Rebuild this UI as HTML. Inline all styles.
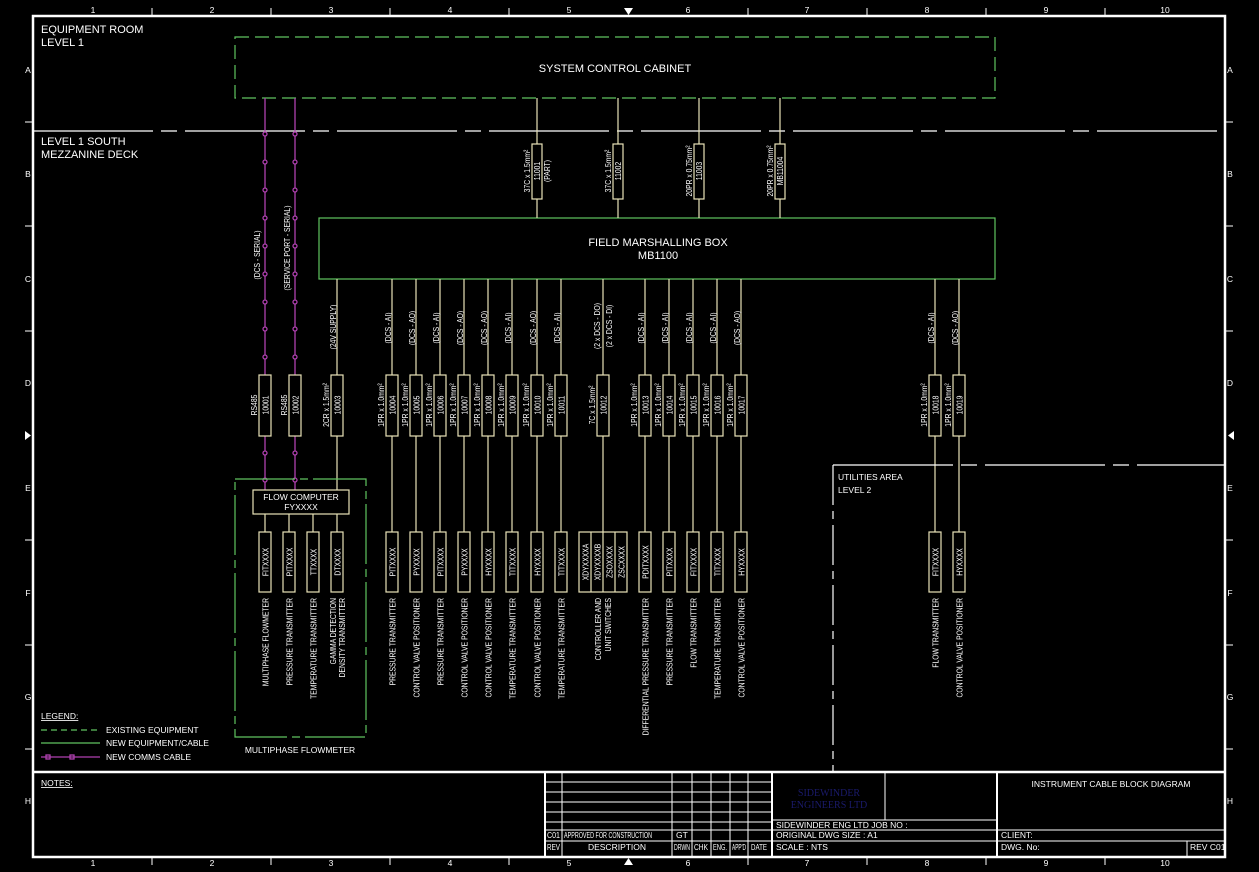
<!DOCTYPE html>
<html><head><meta charset="utf-8"><style>
html,body{margin:0;padding:0;background:#000;}
svg{display:block;}
text{font-family:"Liberation Sans Narrow","Liberation Sans",sans-serif;fill:#fff;font-size:8.5px;}
.m{text-anchor:middle;}
.e{text-anchor:end;}
.L{font-size:11px;}
.ln{stroke:#e8e2b8;stroke-width:1.2;fill:none;}
.bx{stroke:#e8e2b8;stroke-width:1.2;fill:#000;}
.g{stroke:#5fc45f;stroke-width:1.2;fill:none;}
.mg{stroke:#b040b0;stroke-width:1.3;fill:none;}
.w{stroke:#fff;fill:none;}
.s{font-size:6px;}
</style></head><body>
<svg width="1259" height="872" viewBox="0 0 1259 872" xmlns="http://www.w3.org/2000/svg">
<rect width="1259" height="872" fill="#000"/>
<!-- frame -->
<rect x="33" y="16" width="1192" height="841" class="w" stroke-width="2.5"/>
<g class="w" stroke-width="1">
<line x1="152" y1="8" x2="152" y2="16"/><line x1="271" y1="8" x2="271" y2="16"/><line x1="390" y1="8" x2="390" y2="16"/><line x1="509" y1="8" x2="509" y2="16"/><line x1="748" y1="8" x2="748" y2="16"/><line x1="867" y1="8" x2="867" y2="16"/><line x1="986" y1="8" x2="986" y2="16"/><line x1="1105" y1="8" x2="1105" y2="16"/>
<line x1="152" y1="857" x2="152" y2="865"/><line x1="271" y1="857" x2="271" y2="865"/><line x1="390" y1="857" x2="390" y2="865"/><line x1="509" y1="857" x2="509" y2="865"/><line x1="748" y1="857" x2="748" y2="865"/><line x1="867" y1="857" x2="867" y2="865"/><line x1="986" y1="857" x2="986" y2="865"/><line x1="1105" y1="857" x2="1105" y2="865"/>
<line x1="25" y1="122" x2="33" y2="122"/><line x1="25" y1="226" x2="33" y2="226"/><line x1="25" y1="331" x2="33" y2="331"/><line x1="25" y1="540" x2="33" y2="540"/><line x1="25" y1="645" x2="33" y2="645"/><line x1="25" y1="749" x2="33" y2="749"/>
<line x1="1225" y1="122" x2="1233" y2="122"/><line x1="1225" y1="226" x2="1233" y2="226"/><line x1="1225" y1="331" x2="1233" y2="331"/><line x1="1225" y1="540" x2="1233" y2="540"/><line x1="1225" y1="645" x2="1233" y2="645"/><line x1="1225" y1="749" x2="1233" y2="749"/>
</g>
<polygon points="624,8 633,8 628.5,15" fill="#fff"/><polygon points="624,865 633,865 628.5,858" fill="#fff"/>
<polygon points="25,431 25,440 31,435.5" fill="#fff"/><polygon points="1234,431 1234,440 1228,435.5" fill="#fff"/>
<g class="m" font-size="7">
<text x="93" y="13">1</text><text x="212" y="13">2</text><text x="331" y="13">3</text><text x="450" y="13">4</text><text x="569" y="13">5</text><text x="688" y="13">6</text><text x="807" y="13">7</text><text x="927" y="13">8</text><text x="1046" y="13">9</text><text x="1165" y="13">10</text>
<text x="93" y="866">1</text><text x="212" y="866">2</text><text x="331" y="866">3</text><text x="450" y="866">4</text><text x="569" y="866">5</text><text x="688" y="866">6</text><text x="807" y="866">7</text><text x="927" y="866">8</text><text x="1046" y="866">9</text><text x="1165" y="866">10</text>
<text x="28" y="73">A</text><text x="28" y="177">B</text><text x="28" y="282">C</text><text x="28" y="386">D</text><text x="28" y="491">E</text><text x="28" y="596">F</text><text x="28" y="700">G</text><text x="28" y="804">H</text>
<text x="1230" y="73">A</text><text x="1230" y="177">B</text><text x="1230" y="282">C</text><text x="1230" y="386">D</text><text x="1230" y="491">E</text><text x="1230" y="596">F</text><text x="1230" y="700">G</text><text x="1230" y="804">H</text>
</g>
<!-- area labels -->
<text x="41" y="33" class="L">EQUIPMENT ROOM</text><text x="41" y="46" class="L">LEVEL 1</text>
<text x="41" y="145" class="L">LEVEL 1 SOUTH</text><text x="41" y="158" class="L">MEZZANINE DECK</text>
<line x1="33" y1="131" x2="1225" y2="131" class="w" stroke-dasharray="120 8 16 8" stroke-width="1.3"/>
<!-- cabinet -->
<rect x="235" y="37" width="760" height="61" class="g" stroke-dasharray="14 6"/>
<text x="615" y="72" class="m L">SYSTEM CONTROL CABINET</text>
<!-- FMB -->
<rect x="319" y="218" width="676" height="61" class="g"/>
<text x="658" y="246" class="m L">FIELD MARSHALLING BOX</text>
<text x="658" y="259" class="m L">MB1100</text>
<!-- top cables -->
<g transform="translate(537,0)"><line x1="0" y1="98" x2="0" y2="218" class="ln"/><rect x="-5" y="144" width="10" height="55" class="bx"/>
<text transform="translate(3,171) rotate(-90) scale(.8,1)" class="m">11001</text><text transform="translate(-7,171) rotate(-90) scale(.8,1)" class="m">37C x 1.5mm²</text><text transform="translate(13,171) rotate(-90) scale(.8,1)" class="m">(PART)</text></g>
<g transform="translate(618,0)"><line x1="0" y1="98" x2="0" y2="218" class="ln"/><rect x="-5" y="144" width="10" height="55" class="bx"/>
<text transform="translate(3,171) rotate(-90) scale(.8,1)" class="m">11002</text><text transform="translate(-7,171) rotate(-90) scale(.8,1)" class="m">37C x 1.5mm²</text></g>
<g transform="translate(699,0)"><line x1="0" y1="98" x2="0" y2="218" class="ln"/><rect x="-5" y="144" width="10" height="55" class="bx"/>
<text transform="translate(3,171) rotate(-90) scale(.8,1)" class="m">11003</text><text transform="translate(-7,171) rotate(-90) scale(.8,1)" class="m">20PR x 0.75mm²</text></g>
<g transform="translate(780,0)"><line x1="0" y1="98" x2="0" y2="218" class="ln"/><rect x="-5" y="144" width="10" height="55" class="bx"/>
<text transform="translate(3,171) rotate(-90) scale(.8,1)" class="m">MB11004</text><text transform="translate(-7,171) rotate(-90) scale(.8,1)" class="m">20PR x 0.75mm²</text></g>
<!-- magenta comms -->
<g class="mg">
<line x1="265" y1="98" x2="265" y2="490"/><line x1="295" y1="98" x2="295" y2="490"/>
<g fill="#000">
<circle cx="265" cy="134" r="2"/><circle cx="265" cy="162" r="2"/><circle cx="265" cy="190" r="2"/><circle cx="265" cy="218" r="2"/><circle cx="265" cy="246" r="2"/><circle cx="265" cy="274" r="2"/><circle cx="265" cy="302" r="2"/><circle cx="265" cy="329" r="2"/><circle cx="265" cy="357" r="2"/><circle cx="265" cy="453" r="2"/><circle cx="265" cy="480" r="2"/>
<circle cx="295" cy="134" r="2"/><circle cx="295" cy="162" r="2"/><circle cx="295" cy="190" r="2"/><circle cx="295" cy="218" r="2"/><circle cx="295" cy="246" r="2"/><circle cx="295" cy="274" r="2"/><circle cx="295" cy="302" r="2"/><circle cx="295" cy="329" r="2"/><circle cx="295" cy="357" r="2"/><circle cx="295" cy="453" r="2"/><circle cx="295" cy="480" r="2"/>
</g></g>
<g transform="translate(265,0)"><rect x="-6" y="375" width="12" height="61" class="bx"/>
<text transform="translate(3.5,405) rotate(-90) scale(.8,1)" class="m">10001</text><text transform="translate(-8,405) rotate(-90) scale(.8,1)" class="m">RS485</text><text transform="translate(-5,255) rotate(-90) scale(.8,1)" class="m">(DCS - SERIAL)</text></g>
<g transform="translate(295,0)"><rect x="-6" y="375" width="12" height="61" class="bx"/>
<text transform="translate(3.5,405) rotate(-90) scale(.8,1)" class="m">10002</text><text transform="translate(-8,405) rotate(-90) scale(.8,1)" class="m">RS485</text><text transform="translate(-5,248) rotate(-90) scale(.8,1)" class="m">(SERVICE PORT - SERIAL)</text></g>
<g transform="translate(337,0)"><line x1="0" y1="279" x2="0" y2="490" class="ln"/><rect x="-6" y="375" width="12" height="61" class="bx"/>
<text transform="translate(3.5,405) rotate(-90) scale(.8,1)" class="m">10003</text><text transform="translate(-8,405) rotate(-90) scale(.8,1)" class="m">2CR x 1.5mm²</text><text transform="translate(-1,327) rotate(-90) scale(.8,1)" class="m">(24V SUPPLY)</text></g>
<!-- multiphase flowmeter -->
<rect x="235" y="479" width="131" height="258" class="g" stroke-dasharray="60 5 8 5"/>
<text x="300" y="753" class="m">MULTIPHASE FLOWMETER</text>
<rect x="253" y="490" width="96" height="24" class="bx"/>
<text x="301" y="500" class="m" font-size="8">FLOW COMPUTER</text><text x="301" y="510" class="m" font-size="8">FYXXXX</text>
<g class="ln"><line x1="265" y1="514" x2="265" y2="532"/><line x1="289" y1="514" x2="289" y2="532"/><line x1="313" y1="514" x2="313" y2="532"/><line x1="337" y1="514" x2="337" y2="532"/></g>
<g transform="translate(265,0)"><rect x="-6" y="532" width="12" height="60" class="bx"/><text transform="translate(3.5,562) rotate(-90) scale(.8,1)" class="m">FITXXXX</text><text transform="translate(3.5,598) rotate(-90) scale(.8,1)" class="e">MULTIPHASE FLOWMETER</text></g>
<g transform="translate(289,0)"><rect x="-6" y="532" width="12" height="60" class="bx"/><text transform="translate(3.5,562) rotate(-90) scale(.8,1)" class="m">PITXXXX</text><text transform="translate(3.5,598) rotate(-90) scale(.8,1)" class="e">PRESSURE TRANSMITTER</text></g>
<g transform="translate(313,0)"><rect x="-6" y="532" width="12" height="60" class="bx"/><text transform="translate(3.5,562) rotate(-90) scale(.8,1)" class="m">TTXXXX</text><text transform="translate(3.5,598) rotate(-90) scale(.8,1)" class="e">TEMPERATURE TRANSMITTER</text></g>
<g transform="translate(337,0)"><rect x="-6" y="532" width="12" height="60" class="bx"/><text transform="translate(3.5,562) rotate(-90) scale(.8,1)" class="m">DTXXXX</text><text transform="translate(-1,598) rotate(-90) scale(.8,1)" class="e">GAMMA DETECTION</text><text transform="translate(8,598) rotate(-90) scale(.8,1)" class="e">DENSITY TRANSMITTER</text></g>

<!-- field columns -->
<g transform="translate(392,0)"><line x1="0" y1="279" x2="0" y2="532" class="ln"/><rect x="-6" y="375" width="12" height="61" class="bx"/><text transform="translate(3.5,405) rotate(-90) scale(.8,1)" class="m">10004</text><text transform="translate(-8,405) rotate(-90) scale(.8,1)" class="m">1PR x 1.0mm²</text><text transform="translate(-1,328) rotate(-90) scale(.8,1)" class="m">(DCS - AI)</text><rect x="-6" y="532" width="12" height="60" class="bx"/><text transform="translate(3.5,562) rotate(-90) scale(.8,1)" class="m">PITXXXX</text><text transform="translate(3.5,598) rotate(-90) scale(.8,1)" class="e">PRESSURE TRANSMITTER</text></g>
<g transform="translate(416,0)"><line x1="0" y1="279" x2="0" y2="532" class="ln"/><rect x="-6" y="375" width="12" height="61" class="bx"/><text transform="translate(3.5,405) rotate(-90) scale(.8,1)" class="m">10005</text><text transform="translate(-8,405) rotate(-90) scale(.8,1)" class="m">1PR x 1.0mm²</text><text transform="translate(-1,328) rotate(-90) scale(.8,1)" class="m">(DCS - AO)</text><rect x="-6" y="532" width="12" height="60" class="bx"/><text transform="translate(3.5,562) rotate(-90) scale(.8,1)" class="m">PYXXXX</text><text transform="translate(3.5,598) rotate(-90) scale(.8,1)" class="e">CONTROL VALVE POSITIONER</text></g>
<g transform="translate(440,0)"><line x1="0" y1="279" x2="0" y2="532" class="ln"/><rect x="-6" y="375" width="12" height="61" class="bx"/><text transform="translate(3.5,405) rotate(-90) scale(.8,1)" class="m">10006</text><text transform="translate(-8,405) rotate(-90) scale(.8,1)" class="m">1PR x 1.0mm²</text><text transform="translate(-1,328) rotate(-90) scale(.8,1)" class="m">(DCS - AI)</text><rect x="-6" y="532" width="12" height="60" class="bx"/><text transform="translate(3.5,562) rotate(-90) scale(.8,1)" class="m">PITXXXX</text><text transform="translate(3.5,598) rotate(-90) scale(.8,1)" class="e">PRESSURE TRANSMITTER</text></g>
<g transform="translate(464,0)"><line x1="0" y1="279" x2="0" y2="532" class="ln"/><rect x="-6" y="375" width="12" height="61" class="bx"/><text transform="translate(3.5,405) rotate(-90) scale(.8,1)" class="m">10007</text><text transform="translate(-8,405) rotate(-90) scale(.8,1)" class="m">1PR x 1.0mm²</text><text transform="translate(-1,328) rotate(-90) scale(.8,1)" class="m">(DCS - AO)</text><rect x="-6" y="532" width="12" height="60" class="bx"/><text transform="translate(3.5,562) rotate(-90) scale(.8,1)" class="m">PYXXXX</text><text transform="translate(3.5,598) rotate(-90) scale(.8,1)" class="e">CONTROL VALVE POSITIONER</text></g>
<g transform="translate(488,0)"><line x1="0" y1="279" x2="0" y2="532" class="ln"/><rect x="-6" y="375" width="12" height="61" class="bx"/><text transform="translate(3.5,405) rotate(-90) scale(.8,1)" class="m">10008</text><text transform="translate(-8,405) rotate(-90) scale(.8,1)" class="m">1PR x 1.0mm²</text><text transform="translate(-1,328) rotate(-90) scale(.8,1)" class="m">(DCS - AO)</text><rect x="-6" y="532" width="12" height="60" class="bx"/><text transform="translate(3.5,562) rotate(-90) scale(.8,1)" class="m">HYXXXX</text><text transform="translate(3.5,598) rotate(-90) scale(.8,1)" class="e">CONTROL VALVE POSITIONER</text></g>
<g transform="translate(512,0)"><line x1="0" y1="279" x2="0" y2="532" class="ln"/><rect x="-6" y="375" width="12" height="61" class="bx"/><text transform="translate(3.5,405) rotate(-90) scale(.8,1)" class="m">10009</text><text transform="translate(-8,405) rotate(-90) scale(.8,1)" class="m">1PR x 1.0mm²</text><text transform="translate(-1,328) rotate(-90) scale(.8,1)" class="m">(DCS - AI)</text><rect x="-6" y="532" width="12" height="60" class="bx"/><text transform="translate(3.5,562) rotate(-90) scale(.8,1)" class="m">TITXXXX</text><text transform="translate(3.5,598) rotate(-90) scale(.8,1)" class="e">TEMPERATURE TRANSMITTER</text></g>
<g transform="translate(537,0)"><line x1="0" y1="279" x2="0" y2="532" class="ln"/><rect x="-6" y="375" width="12" height="61" class="bx"/><text transform="translate(3.5,405) rotate(-90) scale(.8,1)" class="m">10010</text><text transform="translate(-8,405) rotate(-90) scale(.8,1)" class="m">1PR x 1.0mm²</text><text transform="translate(-1,328) rotate(-90) scale(.8,1)" class="m">(DCS - AO)</text><rect x="-6" y="532" width="12" height="60" class="bx"/><text transform="translate(3.5,562) rotate(-90) scale(.8,1)" class="m">HYXXXX</text><text transform="translate(3.5,598) rotate(-90) scale(.8,1)" class="e">CONTROL VALVE POSITIONER</text></g>
<g transform="translate(561,0)"><line x1="0" y1="279" x2="0" y2="532" class="ln"/><rect x="-6" y="375" width="12" height="61" class="bx"/><text transform="translate(3.5,405) rotate(-90) scale(.8,1)" class="m">10011</text><text transform="translate(-8,405) rotate(-90) scale(.8,1)" class="m">1PR x 1.0mm²</text><text transform="translate(-1,328) rotate(-90) scale(.8,1)" class="m">(DCS - AI)</text><rect x="-6" y="532" width="12" height="60" class="bx"/><text transform="translate(3.5,562) rotate(-90) scale(.8,1)" class="m">TITXXXX</text><text transform="translate(3.5,598) rotate(-90) scale(.8,1)" class="e">TEMPERATURE TRANSMITTER</text></g>
<g transform="translate(603,0)"><line x1="0" y1="279" x2="0" y2="532" class="ln"/><rect x="-6" y="375" width="12" height="61" class="bx"/><text transform="translate(3.5,405) rotate(-90) scale(.8,1)" class="m">10012</text><text transform="translate(-8,405) rotate(-90) scale(.8,1)" class="m">7C x 1.5mm²</text><text transform="translate(-3,326) rotate(-90) scale(.8,1)" class="m">(2 x DCS - DO)</text><text transform="translate(9,326) rotate(-90) scale(.8,1)" class="m">(2 x DCS - DI)</text>
<rect x="-24" y="532" width="48" height="60" class="bx"/><line x1="-12" y1="532" x2="-12" y2="592" class="ln"/><line x1="0" y1="532" x2="0" y2="592" class="ln"/><line x1="12" y1="532" x2="12" y2="592" class="ln"/>
<text transform="translate(-14.5,562) rotate(-90) scale(.8,1)" class="m">XDYXXXXA</text><text transform="translate(-2.5,562) rotate(-90) scale(.8,1)" class="m">XDYXXXXB</text><text transform="translate(9.5,562) rotate(-90) scale(.8,1)" class="m">ZSOXXXX</text><text transform="translate(21.5,562) rotate(-90) scale(.8,1)" class="m">ZSCXXXX</text>
<text transform="translate(-2,598) rotate(-90) scale(.8,1)" class="e">CONTROLLER AND</text><text transform="translate(8,598) rotate(-90) scale(.8,1)" class="e">UNIT SWITCHES</text></g>
<g transform="translate(645,0)"><line x1="0" y1="279" x2="0" y2="532" class="ln"/><rect x="-6" y="375" width="12" height="61" class="bx"/><text transform="translate(3.5,405) rotate(-90) scale(.8,1)" class="m">10013</text><text transform="translate(-8,405) rotate(-90) scale(.8,1)" class="m">1PR x 1.0mm²</text><text transform="translate(-1,328) rotate(-90) scale(.8,1)" class="m">(DCS - AI)</text><rect x="-6" y="532" width="12" height="60" class="bx"/><text transform="translate(3.5,562) rotate(-90) scale(.8,1)" class="m">PDITXXXX</text><text transform="translate(3.5,598) rotate(-90) scale(.8,1)" class="e">DIFFERENTIAL PRESSURE TRANSMITTER</text></g>
<g transform="translate(669,0)"><line x1="0" y1="279" x2="0" y2="532" class="ln"/><rect x="-6" y="375" width="12" height="61" class="bx"/><text transform="translate(3.5,405) rotate(-90) scale(.8,1)" class="m">10014</text><text transform="translate(-8,405) rotate(-90) scale(.8,1)" class="m">1PR x 1.0mm²</text><text transform="translate(-1,328) rotate(-90) scale(.8,1)" class="m">(DCS - AI)</text><rect x="-6" y="532" width="12" height="60" class="bx"/><text transform="translate(3.5,562) rotate(-90) scale(.8,1)" class="m">PITXXXX</text><text transform="translate(3.5,598) rotate(-90) scale(.8,1)" class="e">PRESSURE TRANSMITTER</text></g>
<g transform="translate(693,0)"><line x1="0" y1="279" x2="0" y2="532" class="ln"/><rect x="-6" y="375" width="12" height="61" class="bx"/><text transform="translate(3.5,405) rotate(-90) scale(.8,1)" class="m">10015</text><text transform="translate(-8,405) rotate(-90) scale(.8,1)" class="m">1PR x 1.0mm²</text><text transform="translate(-1,328) rotate(-90) scale(.8,1)" class="m">(DCS - AI)</text><rect x="-6" y="532" width="12" height="60" class="bx"/><text transform="translate(3.5,562) rotate(-90) scale(.8,1)" class="m">FITXXXX</text><text transform="translate(3.5,598) rotate(-90) scale(.8,1)" class="e">FLOW TRANSMITTER</text></g>
<g transform="translate(717,0)"><line x1="0" y1="279" x2="0" y2="532" class="ln"/><rect x="-6" y="375" width="12" height="61" class="bx"/><text transform="translate(3.5,405) rotate(-90) scale(.8,1)" class="m">10016</text><text transform="translate(-8,405) rotate(-90) scale(.8,1)" class="m">1PR x 1.0mm²</text><text transform="translate(-1,328) rotate(-90) scale(.8,1)" class="m">(DCS - AI)</text><rect x="-6" y="532" width="12" height="60" class="bx"/><text transform="translate(3.5,562) rotate(-90) scale(.8,1)" class="m">TITXXXX</text><text transform="translate(3.5,598) rotate(-90) scale(.8,1)" class="e">TEMPERATURE TRANSMITTER</text></g>
<g transform="translate(741,0)"><line x1="0" y1="279" x2="0" y2="532" class="ln"/><rect x="-6" y="375" width="12" height="61" class="bx"/><text transform="translate(3.5,405) rotate(-90) scale(.8,1)" class="m">10017</text><text transform="translate(-8,405) rotate(-90) scale(.8,1)" class="m">1PR x 1.0mm²</text><text transform="translate(-1,328) rotate(-90) scale(.8,1)" class="m">(DCS - AO)</text><rect x="-6" y="532" width="12" height="60" class="bx"/><text transform="translate(3.5,562) rotate(-90) scale(.8,1)" class="m">HYXXXX</text><text transform="translate(3.5,598) rotate(-90) scale(.8,1)" class="e">CONTROL VALVE POSITIONER</text></g>
<g transform="translate(935,0)"><line x1="0" y1="279" x2="0" y2="532" class="ln"/><rect x="-6" y="375" width="12" height="61" class="bx"/><text transform="translate(3.5,405) rotate(-90) scale(.8,1)" class="m">10018</text><text transform="translate(-8,405) rotate(-90) scale(.8,1)" class="m">1PR x 1.0mm²</text><text transform="translate(-1,328) rotate(-90) scale(.8,1)" class="m">(DCS - AI)</text><rect x="-6" y="532" width="12" height="60" class="bx"/><text transform="translate(3.5,562) rotate(-90) scale(.8,1)" class="m">FITXXXX</text><text transform="translate(3.5,598) rotate(-90) scale(.8,1)" class="e">FLOW TRANSMITTER</text></g>
<g transform="translate(959,0)"><line x1="0" y1="279" x2="0" y2="532" class="ln"/><rect x="-6" y="375" width="12" height="61" class="bx"/><text transform="translate(3.5,405) rotate(-90) scale(.8,1)" class="m">10019</text><text transform="translate(-8,405) rotate(-90) scale(.8,1)" class="m">1PR x 1.0mm²</text><text transform="translate(-1,328) rotate(-90) scale(.8,1)" class="m">(DCS - AO)</text><rect x="-6" y="532" width="12" height="60" class="bx"/><text transform="translate(3.5,562) rotate(-90) scale(.8,1)" class="m">HYXXXX</text><text transform="translate(3.5,598) rotate(-90) scale(.8,1)" class="e">CONTROL VALVE POSITIONER</text></g>
<!-- utilities area -->
<line x1="833" y1="465" x2="833" y2="772" class="w" stroke-dasharray="40 6 8 6" stroke-width="1.2"/>
<line x1="833" y1="465" x2="1225" y2="465" class="w" stroke-dasharray="120 8 16 8" stroke-width="1.2"/>
<text x="838" y="480" font-size="10">UTILITIES AREA</text><text x="838" y="493" font-size="10">LEVEL 2</text>
<!-- legend -->
<text x="41" y="719" font-size="7.5" text-decoration="underline">LEGEND:</text>
<line x1="41" y1="730" x2="100" y2="730" class="g" stroke-dasharray="6 4"/><text x="106" y="733" font-size="7.5">EXISTING EQUIPMENT</text>
<line x1="41" y1="743" x2="100" y2="743" class="g"/><text x="106" y="746" font-size="7.5">NEW EQUIPMENT/CABLE</text>
<line x1="41" y1="757" x2="100" y2="757" class="mg"/><rect x="46" y="755" width="4" height="4" class="mg" fill="#000"/><rect x="70" y="755" width="4" height="4" class="mg" fill="#000"/><text x="106" y="760" font-size="7.5">NEW COMMS CABLE</text>
<!-- title block -->
<line x1="33" y1="772" x2="1225" y2="772" class="w" stroke-width="2.5"/>
<line x1="545" y1="772" x2="545" y2="857" class="w" stroke-width="2"/>
<text x="41" y="786" font-size="7.5" text-decoration="underline">NOTES:</text>
<g class="w" stroke-width="1">
<line x1="545" y1="782" x2="772" y2="782"/><line x1="545" y1="792" x2="772" y2="792"/><line x1="545" y1="802" x2="772" y2="802"/><line x1="545" y1="812" x2="772" y2="812"/><line x1="545" y1="822" x2="772" y2="822"/><line x1="545" y1="830" x2="772" y2="830"/>
<line x1="545" y1="841" x2="1225" y2="841"/><line x1="772" y1="830" x2="1225" y2="830"/><line x1="772" y1="820" x2="997" y2="820"/>
<line x1="562" y1="772" x2="562" y2="857"/><line x1="672" y1="772" x2="672" y2="857"/><line x1="692" y1="772" x2="692" y2="857"/><line x1="711" y1="772" x2="711" y2="857"/><line x1="730" y1="772" x2="730" y2="857"/><line x1="748" y1="772" x2="748" y2="857"/>
<line x1="1187" y1="841" x2="1187" y2="857"/><line x1="885" y1="772" x2="885" y2="820"/>
</g>
<line x1="772" y1="772" x2="772" y2="857" class="w" stroke-width="2"/>
<line x1="997" y1="772" x2="997" y2="857" class="w" stroke-width="2"/>
<g class="s">
<text x="547" y="838" textLength="13" lengthAdjust="spacingAndGlyphs">C01</text><text x="564" y="838" textLength="88" lengthAdjust="spacingAndGlyphs">APPROVED FOR CONSTRUCTION</text><text x="676" y="838">GT</text>
<text x="547" y="850" textLength="13" lengthAdjust="spacingAndGlyphs">REV</text><text x="617" y="850" class="m">DESCRIPTION</text><text x="674" y="850" textLength="16" lengthAdjust="spacingAndGlyphs">DRWN</text><text x="694" y="850" textLength="14" lengthAdjust="spacingAndGlyphs">CHK</text><text x="713" y="850" textLength="14" lengthAdjust="spacingAndGlyphs">ENG.</text><text x="732" y="850" textLength="14" lengthAdjust="spacingAndGlyphs">APP'D</text><text x="751" y="850" textLength="16" lengthAdjust="spacingAndGlyphs">DATE</text>
<text x="776" y="828">SIDEWINDER ENG LTD JOB NO :</text><text x="776" y="838">ORIGINAL DWG SIZE : A1</text><text x="776" y="850">SCALE : NTS</text>
<text x="1001" y="838">CLIENT:</text><text x="1001" y="850">DWG. No:</text><text x="1190" y="850">REV C01</text>
</g>
<text x="1111" y="787" class="m" font-size="8">INSTRUMENT CABLE BLOCK DIAGRAM</text>
<text x="829" y="796" class="m" style="font-family:'Liberation Serif',serif;fill:#1a1a6a;font-size:10px">SIDEWINDER</text>
<text x="829" y="808" class="m" style="font-family:'Liberation Serif',serif;fill:#1a1a6a;font-size:10px">ENGINEERS LTD</text>
</svg>
</body></html>
